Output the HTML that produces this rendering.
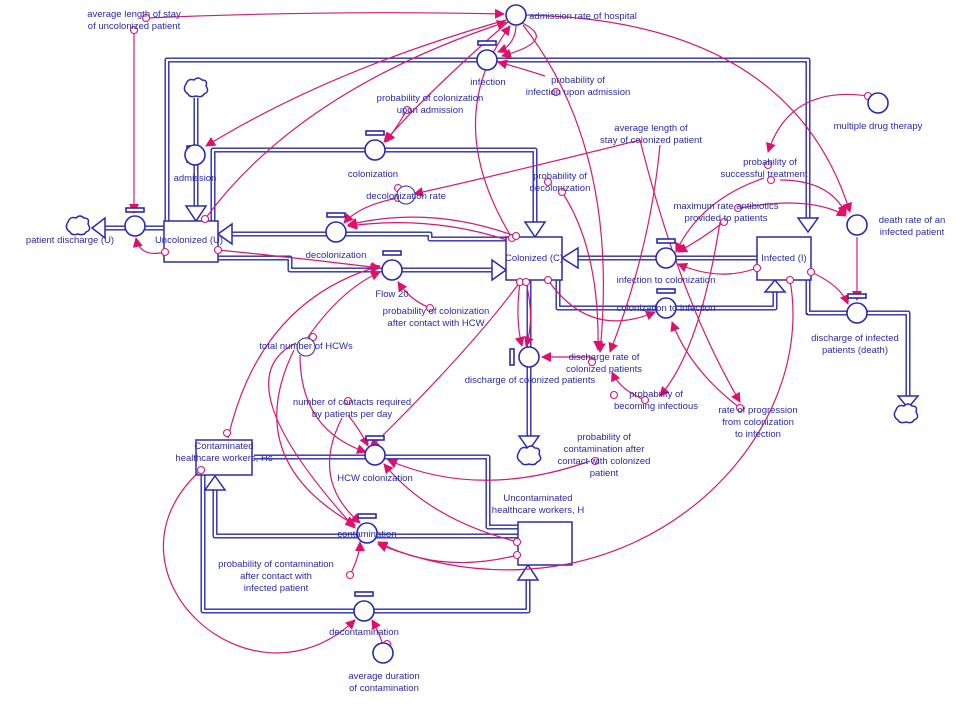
<!DOCTYPE html>
<html><head><meta charset="utf-8"><style>
html,body{margin:0;padding:0;background:#fff;}
svg{display:block;}
text{font-family:"Liberation Sans",sans-serif;font-size:9.5px;fill:#2a2aa8;text-anchor:middle;}
.p{fill:none;stroke:#2a2ab0;stroke-width:5;stroke-linejoin:round;}
.pi{fill:none;stroke:#fff;stroke-width:2.2;stroke-linejoin:round;}
.v{fill:#fff;stroke:#2a2ab0;stroke-width:1.6;}
.l{fill:none;stroke:#d81870;stroke-width:1.2;}
.o{fill:#fff;stroke:#d81870;stroke-width:1.1;}
.ah{fill:#fff;stroke:#2a2ab0;stroke-width:1.5;}
</style></head><body>
<svg width="961" height="709" viewBox="0 0 961 709" xmlns="http://www.w3.org/2000/svg">
<defs>
<marker id="a" markerWidth="10" markerHeight="10" refX="9" refY="5" orient="auto" markerUnits="userSpaceOnUse"><path d="M0,0 L10,5 L0,10 z" fill="#e0106a"/></marker>
</defs>

<!-- PIPES -->
<g>
<path class="p" d="M167,240 V60 H808 V228"/><path class="pi" d="M167,240 V60 H808 V228"/>
<path class="p" d="M196,98 V208"/><path class="pi" d="M196,98 V208"/>
<path class="p" d="M213,221 V150 H535 V222"/><path class="pi" d="M213,221 V150 H535 V222"/>
<path class="p" d="M506,239 H430 V234 H232"/><path class="pi" d="M506,239 H430 V234 H232"/>
<path class="p" d="M218,258 H290 V270 H492"/><path class="pi" d="M218,258 H290 V270 H492"/>
<path class="p" d="M164,228 H105"/><path class="pi" d="M164,228 H105"/>
<path class="p" d="M757,258 H578"/><path class="pi" d="M757,258 H578"/>
<path class="p" d="M558,280 V308 H775 V292"/><path class="pi" d="M558,280 V308 H775 V292"/>
<path class="p" d="M529,280 V438"/><path class="pi" d="M529,280 V438"/>
<path class="p" d="M808,280 V313 H908 V396"/><path class="pi" d="M808,313 H908 V396 M808,280 V313"/>
<path class="p" d="M254,457 H488 V527 H518"/><path class="pi" d="M254,457 H488 V527 H518"/>
<path class="p" d="M518,536 H215 V490"/><path class="pi" d="M518,536 H215 V490"/>
<path class="p" d="M203,475 V611 H528 V580"/><path class="pi" d="M203,475 V611 H528 V580"/>
</g>
<!-- pipe arrowheads -->
<path class="ah" d="M798,218 H818 L808,232 Z"/>
<path class="ah" d="M186,206 H206 L196,221 Z"/>
<path class="ah" d="M525,222 H545 L535,237 Z"/>
<path class="ah" d="M232,224 V244 L218,234 Z"/>
<path class="ah" d="M492,260 V280 L506,270 Z"/>
<path class="ah" d="M105,218 V238 L92,228 Z"/>
<path class="ah" d="M578,248 V268 L562,258 Z"/>
<path class="ah" d="M765,292 H785 L775,280 Z"/>
<path class="ah" d="M519,436 H539 L529,450 Z"/>
<path class="ah" d="M898,396 H918 L908,408 Z"/>
<path class="ah" d="M205,490 H225 L215,476 Z"/>
<path class="ah" d="M518,580 H538 L528,565 Z"/>

<!-- clouds -->
<g fill="#fff" stroke="#2a2ab0" stroke-width="1.5">
<path d="M188,94 q-6,-4 -2,-10 q2,-6 8,-4 q4,-4 8,0 q6,0 4,6 q4,6 -2,8 q-2,4 -8,2 q-6,2 -8,-2z"/>
<path d="M70,232 q-6,-4 -2,-10 q2,-6 8,-4 q4,-4 8,0 q6,0 4,6 q4,6 -2,8 q-2,4 -8,2 q-6,2 -8,-2z"/>
<path d="M521,462 q-6,-4 -2,-10 q2,-6 8,-4 q4,-4 8,0 q6,0 4,6 q4,6 -2,8 q-2,4 -8,2 q-6,2 -8,-2z"/>
<path d="M898,420 q-6,-4 -2,-10 q2,-6 8,-4 q4,-4 8,0 q6,0 4,6 q4,6 -2,8 q-2,4 -8,2 q-6,2 -8,-2z"/>
</g>

<!-- stocks -->
<g fill="#fff" stroke="#2a2ab0" stroke-width="1.5">
<rect x="164" y="221" width="54" height="41"/>
<rect x="506" y="237" width="56" height="43"/>
<rect x="757" y="237" width="54" height="43"/>
<rect x="196" y="440" width="56" height="35"/>
<rect x="518" y="522" width="54" height="43"/>
</g>

<!-- LINKS -->
<g class="l" marker-end="url(#a)">
<path d="M134,30 V213"/>
<path d="M146,18 Q330,10 504,14"/>
<path d="M506,20 Q330,70 206,146"/>
<path d="M205,219 Q300,90 506,22"/>
<path d="M165,252 Q140,258 136,238"/>
<path d="M512,238 Q440,120 510,26"/>
<path d="M516,26 Q515,45 498,52"/>
<path d="M545,76 Q520,68 498,62"/>
<path d="M520,22 Q560,40 502,56"/>
<path d="M407,110 Q395,130 386,142"/>
<path d="M508,22 Q430,90 384,142"/>
<path d="M398,198 Q360,205 344,223"/>
<path d="M640,140 Q520,170 414,194"/>
<path d="M515,236 Q430,205 348,225"/>
<path d="M507,240 Q430,215 348,226"/>
<path d="M218,250 Q300,258 380,268"/>
<path d="M306,340 Q340,290 380,272"/>
<path d="M228,438 Q260,300 380,266"/>
<path d="M430,308 Q410,300 398,282"/>
<path d="M520,282 Q515,320 522,346"/>
<path d="M526,282 Q535,320 526,346"/>
<path d="M592,357 H542"/>
<path d="M523,25 Q620,150 600,352"/>
<path d="M660,145 Q650,250 610,352"/>
<path d="M562,192 Q600,250 598,350"/>
<path d="M645,400 Q620,390 612,372"/>
<path d="M548,280 Q590,340 655,312"/>
<path d="M740,408 Q690,370 672,322"/>
<path d="M757,268 Q720,282 678,264"/>
<path d="M724,222 Q700,240 678,252"/>
<path d="M764,178 Q700,200 676,252"/>
<path d="M868,96 Q790,85 768,152"/>
<path d="M525,15 Q790,20 850,212"/>
<path d="M857,237 V300"/>
<path d="M811,272 Q840,285 848,304"/>
<path d="M780,180 Q830,180 846,214"/>
<path d="M740,208 Q810,195 846,216"/>
<path d="M790,280 C820,450 620,640 378,544"/>
<path d="M518,542 Q430,520 384,464"/>
<path d="M518,555 Q440,575 378,542"/>
<path d="M590,461 Q480,500 388,460"/>
<path d="M348,415 Q360,430 368,446"/>
<path d="M342,418 Q310,480 360,523"/>
<path d="M300,355 Q300,430 366,452"/>
<path d="M294,350 Q240,460 355,525"/>
<path d="M296,343 Q220,380 355,528"/>
<path d="M201,470 C90,570 250,720 355,620"/>
<path d="M383,645 Q378,630 372,620"/>
<path d="M350,575 Q360,555 360,542"/>
<path d="M520,282 Q470,350 370,448"/>
<path d="M640,140 Q680,300 740,402"/>
<path d="M720,222 Q700,350 660,396"/>
</g>

<!-- link origin circles -->
<g class="o">
<circle cx="134" cy="30" r="3.5"/><circle cx="146" cy="18" r="3.5"/><circle cx="205" cy="219" r="3.5"/>
<circle cx="165" cy="252" r="3.5"/><circle cx="218" cy="250" r="3.5"/><circle cx="512" cy="238" r="3.5"/>
<circle cx="516" cy="236" r="3.5"/><circle cx="407" cy="110" r="3.5"/><circle cx="398" cy="198" r="3.5"/>
<circle cx="548" cy="182" r="3.5"/><circle cx="562" cy="192" r="3.5"/><circle cx="520" cy="282" r="3.5"/>
<circle cx="526" cy="282" r="3.5"/><circle cx="548" cy="280" r="3.5"/><circle cx="592" cy="362" r="3.5"/>
<circle cx="645" cy="400" r="3.5"/><circle cx="757" cy="268" r="3.5"/><circle cx="724" cy="222" r="3.5"/>
<circle cx="738" cy="208" r="3.5"/><circle cx="771" cy="180" r="3.5"/><circle cx="868" cy="96" r="3.5"/>
<circle cx="811" cy="272" r="3.5"/><circle cx="790" cy="280" r="3.5"/><circle cx="517" cy="542" r="3.5"/>
<circle cx="517" cy="555" r="3.5"/><circle cx="595" cy="461" r="3.5"/><circle cx="348" cy="401" r="3.5"/>
<circle cx="313" cy="337" r="3.5"/><circle cx="201" cy="470" r="3.5"/><circle cx="227" cy="433" r="3.5"/>
<circle cx="387" cy="644" r="3.5"/><circle cx="350" cy="575" r="3.5"/><circle cx="430" cy="308" r="3.5"/>
<circle cx="740" cy="408" r="3.5"/><circle cx="768" cy="165" r="3.5"/><circle cx="614" cy="395" r="3.5"/>
<circle cx="398" cy="188" r="3.5"/><circle cx="556" cy="92" r="3.5"/>
</g>

<!-- valves -->
<g>
<g class="v"><rect x="187" y="146" width="4" height="16"/><circle cx="195" cy="155" r="10"/></g>
<g class="v"><rect x="126" y="208" width="18" height="4"/><circle cx="135" cy="226" r="10"/></g>
<g class="v"><rect x="366" y="131" width="18" height="4"/><circle cx="375" cy="150" r="10"/></g>
<g class="v"><rect x="327" y="213" width="18" height="4"/><circle cx="336" cy="232" r="10"/></g>
<g class="v"><rect x="383" y="251" width="18" height="4"/><circle cx="392" cy="270" r="10"/></g>
<g class="v"><rect x="478" y="41" width="18" height="4"/><circle cx="487" cy="60" r="10"/></g>
<g class="v"><rect x="657" y="239" width="18" height="4"/><circle cx="666" cy="258" r="10"/></g>
<g class="v"><rect x="657" y="289" width="18" height="4"/><circle cx="666" cy="308" r="10"/></g>
<g class="v"><rect x="510" y="349" width="4" height="16"/><circle cx="529" cy="357" r="10"/></g>
<g class="v"><rect x="848" y="294" width="18" height="4"/><circle cx="857" cy="313" r="10"/></g>
<g class="v"><rect x="366" y="436" width="18" height="4"/><circle cx="375" cy="455" r="10"/></g>
<g class="v"><rect x="358" y="514" width="18" height="4"/><circle cx="367" cy="533" r="10"/></g>
<g class="v"><rect x="355" y="592" width="18" height="4"/><circle cx="364" cy="611" r="10"/></g>
</g>
<!-- aux circles -->
<g class="v">
<circle cx="516" cy="15" r="10"/><circle cx="857" cy="225" r="10"/><circle cx="878" cy="103" r="10"/>
<circle cx="383" cy="653" r="10"/><circle cx="406" cy="195" r="9" stroke-width="1"/><circle cx="306" cy="347" r="9" stroke-width="1"/>
</g>

<!-- LABELS -->
<g>
<text x="134" y="17">average length of stay</text><text x="134" y="29">of uncolonized patient</text>
<text x="583" y="19">admission rate of hospital</text>
<text x="488" y="85">infection</text>
<text x="578" y="83">probability of</text><text x="578" y="95">infection upon admission</text>
<text x="430" y="101">probability of colonization</text><text x="430" y="113">upon admission</text>
<text x="373" y="177">colonization</text>
<text x="195" y="181">admission</text>
<text x="406" y="199">decolonization rate</text>
<text x="651" y="131">average length of</text><text x="651" y="143">stay of colonized patient</text>
<text x="770" y="165">probability of</text><text x="764" y="177">successful treatment</text>
<text x="878" y="129">multiple drug therapy</text>
<text x="560" y="179">probability of</text><text x="560" y="191">decolonization</text>
<text x="726" y="209">maximum rate antibiotics</text><text x="726" y="221">provided to patients</text>
<text x="912" y="223">death rate of an</text><text x="912" y="235">infected patient</text>
<text x="70" y="243">patient discharge (U)</text>
<text x="189" y="243">Uncolonized (U)</text>
<text x="336" y="258">decolonization</text>
<text x="534" y="261">Colonized (C)</text>
<text x="784" y="261">Infected (I)</text>
<text x="666" y="283">infection to colonization</text>
<text x="392" y="297">Flow 20</text>
<text x="436" y="314">probability of colonization</text><text x="436" y="326">after contact with HCW</text>
<text x="666" y="311">colonization to infection</text>
<text x="855" y="341">discharge of infected</text><text x="855" y="353">patients (death)</text>
<text x="306" y="349">total number of HCWs</text>
<text x="604" y="360">discharge rate of</text><text x="604" y="372">colonized patients</text>
<text x="530" y="383">discharge of colonized patients</text>
<text x="656" y="397">probability of</text><text x="656" y="409">becoming infectious</text>
<text x="758" y="413">rate of progression</text><text x="758" y="425">from colonization</text><text x="758" y="437">to infection</text>
<text x="352" y="405">number of contacts required</text><text x="352" y="417">by patients per day</text>
<text x="604" y="440">probability of</text><text x="604" y="452">contamination after</text><text x="604" y="464">contact with colonized</text><text x="604" y="476">patient</text>
<text x="224" y="449">Contaminated</text><text x="224" y="461">healthcare workers, Hc</text>
<text x="375" y="481">HCW colonization</text>
<text x="538" y="501">Uncontaminated</text><text x="538" y="513">healthcare workers, H</text>
<text x="367" y="537">contamination</text>
<text x="276" y="567">probability of contamination</text><text x="276" y="579">after contact with</text><text x="276" y="591">infected patient</text>
<text x="364" y="635">decontamination</text>
<text x="384" y="679">average duration</text><text x="384" y="691">of contamination</text>
</g>
</svg>
</body></html>
